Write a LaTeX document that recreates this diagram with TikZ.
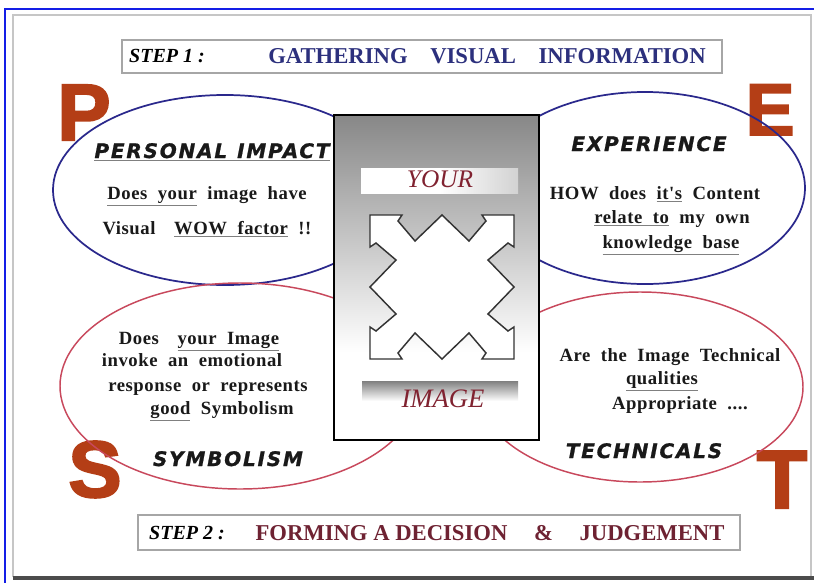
\documentclass[tikz,border=0pt]{standalone}
\usepackage{fontspec}
\setmainfont{Liberation Serif}
\newfontfamily\headfont[LetterSpace=9,FakeBold=1]{DejaVu Sans}
\newfontfamily\bodyfont[WordSpace=2,LetterSpace=3]{Liberation Serif}
\newfontfamily\letterfont[FakeBold=2.5]{Liberation Sans}
\usepackage{tikz}
\usetikzlibrary{shapes}

\definecolor{pestred}{RGB}{180,62,22}
\definecolor{ovalblue}{RGB}{42,40,140}
\definecolor{ovalred}{RGB}{200,72,92}
\definecolor{frameblue}{RGB}{20,30,230}
\definecolor{titleblue}{RGB}{44,48,125}
\definecolor{titlered}{RGB}{110,34,50}
\definecolor{imgred}{RGB}{128,34,48}

\newcommand{\ulword}[1]{\textcolor{gray}{\underline{\textcolor{black!90}{#1}}}}

\tikzset{
  bodytxt/.style={font=\bodyfont\bfseries\fontsize{14}{16}\selectfont, text=black!90, inner sep=0.75pt, anchor=base},
  headtxt/.style={font=\headfont\bfseries\itshape\fontsize{15}{17}\selectfont, text=black!90, inner sep=0.75pt, anchor=base},
  bigletter/.style={font=\letterfont\bfseries\fontsize{#1}{#1}\selectfont, text=pestred, inner sep=0pt, anchor=base},
  steptxt/.style={font=\bfseries\fontsize{17}{19}\selectfont, inner sep=0.75pt, anchor=base},
  stepbox/.style={draw=gray!70, fill=white, line width=0.8pt},
  blueoval/.style={draw=ovalblue, line width=1.3pt},
  redoval/.style={draw=ovalred, line width=1.1pt},
}

\begin{document}
\begin{tikzpicture}[x=0.75pt,y=0.75pt,yscale=-1,xscale=1]
\useasboundingbox (0,0) rectangle (814,582);
\fill[white] (0,0) rectangle (814,582);

% outer frame
\draw[frameblue, line width=2pt] (5,590) -- (5,9) -- (820,9);
\draw[gray!45, line width=0.8pt] (13,577) -- (13,15) -- (811,15) -- (811,577);
\draw[black!70, line width=2.4pt] (13,578) -- (814,578);

% step boxes
\draw[stepbox] (122,40) rectangle (722,73);
\node[steptxt, font=\bfseries\itshape\fontsize{15}{17}\selectfont] (step1) at (167,62) {STEP 1 :};
\node[steptxt, text=titleblue] (gather) at (487,63) {GATHERING\hspace{17pt}VISUAL\hspace{17pt}INFORMATION};

\draw[stepbox] (138,515) rectangle (740,550);
\node[steptxt, font=\bfseries\itshape\fontsize{15}{17}\selectfont] (step2) at (187,539) {STEP 2 :};
\node[steptxt, text=titlered] (forming) at (490,540) {FORMING A DECISION\hspace{20pt}\&\hspace{20pt}JUDGEMENT};

% big letters
\node[bigletter=60] (letP) at (84,140) {P};
\node[bigletter=55] (letE) at (770,135) {E};
\node[bigletter=60] (letS) at (95,497) {S};
\node[bigletter=62] (letT) at (782,508) {T};

% ovals
\draw[blueoval] (225,190) ellipse [x radius=172, y radius=95];
\draw[blueoval] (645,188) ellipse [x radius=160, y radius=96];
\draw[redoval] (240,386) ellipse [x radius=180, y radius=103];
\draw[redoval] (640,387) ellipse [x radius=163, y radius=95];

% centre picture
\shade[top color=black!47, bottom color=white] (334,115) rectangle (539,352);
\fill[white] (334,352) rectangle (539,440);
\shade[left color=white, right color=gray!35, middle color=white] (361,168) rectangle (518,193);
\shade[top color=black!50, bottom color=white] (362,381) rectangle (518,401);
\draw[black, line width=1.7pt] (334,115) rectangle (539,440);

\node[font=\itshape\fontsize{19}{21}\selectfont, text=imgred, inner sep=0.75pt, anchor=base] (your) at (440,187) {YOUR};
\node[font=\itshape\fontsize{20}{22}\selectfont, text=imgred, inner sep=0.75pt, anchor=base] (image) at (443,407) {IMAGE};

% four-way arrow
\begin{scope}[shift={(442,287)}]
\draw[fill=white, draw=black!80, line width=1.1pt, line join=miter]
  (-72,0) -- (-46,-27) -- (-66,-44) -- (-72,-40) -- (-72,-72) -- (-40,-72) -- (-44,-66) -- (-27,-46) -- (0,-72)
  -- (27,-46) -- (44,-66) -- (40,-72) -- (72,-72) -- (72,-40) -- (66,-44) -- (46,-27) -- (72,0)
  -- (46,27) -- (66,44) -- (72,40) -- (72,72) -- (40,72) -- (44,66) -- (27,46) -- (0,72)
  -- (-27,46) -- (-44,66) -- (-40,72) -- (-72,72) -- (-72,40) -- (-66,44) -- (-46,27) -- cycle;
\end{scope}

% personal impact
\node[headtxt] (pihead) at (212,158) {\ulword{PERSONAL\enspace IMPACT}};
\node[bodytxt] (pi1) at (207,199) {\ulword{Does your} image have};
\node[bodytxt] (pi2) at (207,234) {Visual\quad \ulword{WOW factor} !!};

% experience
\node[headtxt] (exhead) at (649,151) {EXPERIENCE};
\node[bodytxt] (ex1) at (655,199) {HOW does \ulword{it's} Content};
\node[bodytxt] (ex2) at (672,223) {\ulword{relate to} my own};
\node[bodytxt] (ex3) at (671,248) {\ulword{knowledge base}};

% symbolism
\node[bodytxt] (sy1) at (199,344) {Does\quad \ulword{your Image}};
\node[bodytxt] (sy2) at (192,366) {invoke an emotional};
\node[bodytxt] (sy3) at (208,391) {response or represents};
\node[bodytxt] (sy4) at (222,414) {\ulword{good} Symbolism};
\node[headtxt] (syhead) at (228,466) {SYMBOLISM};

% technicals
\node[bodytxt] (te1) at (670,361) {Are the Image Technical};
\node[bodytxt] (te2) at (662,384) {\ulword{qualities}};
\node[bodytxt] (te3) at (680,409) {Appropriate ....};
\node[headtxt] (tehead) at (644,458) {TECHNICALS};

\end{tikzpicture}
\end{document}
